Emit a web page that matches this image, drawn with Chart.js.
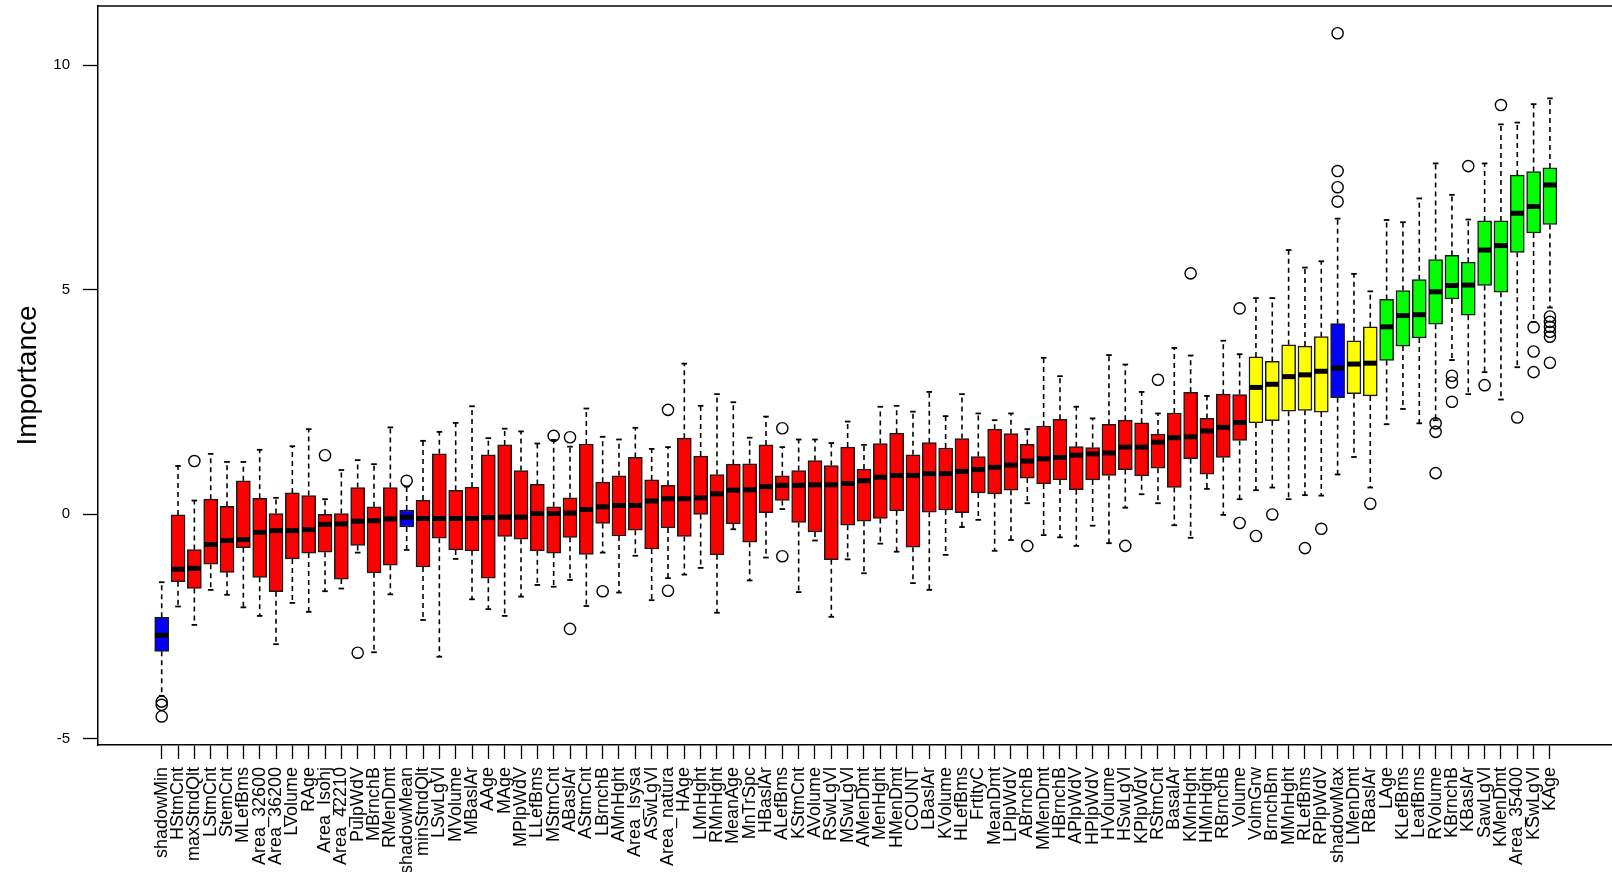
<!DOCTYPE html>
<html>
<head>
<meta charset="utf-8">
<script src="https://cdn.jsdelivr.net/npm/chart.js@4.4.1/dist/chart.umd.min.js"></script>
<style>
  html, body { margin: 0; background: #fff; overflow: hidden; }
  #wrap { width: 1612px; height: 872px; }
</style>
</head>
<body>
<div id="wrap"><canvas id="chart"></canvas></div>
<script>
// Boruta importance per variable, sorted by median
const variables = [
  'shadowMin', 'HStmCnt', 'maxStndQlt', 'LStmCnt', 'StemCnt', 'MLefBms', 'Area_32600', 'Area_36200', 'LVolume', 'RAge',
  'Area_Isohj', 'Area_42210', 'PulpWdV', 'MBrnchB', 'RMenDmt', 'shadowMean', 'minStndQlt', 'LSwLgVl', 'MVolume', 'MBaslAr',
  'AAge', 'MAge', 'MPlpWdV', 'LLefBms', 'MStmCnt', 'ABaslAr', 'AStmCnt', 'LBrnchB', 'AMnHght', 'Area_Isysa',
  'ASwLgVl', 'Area_natura', 'HAge', 'LMnHght', 'RMnHght', 'MeanAge', 'MnTrSpc', 'HBaslAr', 'ALefBms', 'KStmCnt',
  'AVolume', 'RSwLgVl', 'MSwLgVl', 'AMenDmt', 'MenHght', 'HMenDmt', 'COUNT', 'LBaslAr', 'KVolume', 'HLefBms',
  'FrtltyC', 'MeanDmt', 'LPlpWdV', 'ABrnchB', 'MMenDmt', 'HBrnchB', 'APlpWdV', 'HPlpWdV', 'HVolume', 'HSwLgVl',
  'KPlpWdV', 'RStmCnt', 'BasalAr', 'KMnHght', 'HMnHght', 'RBrnchB', 'Volume', 'VolmGrw', 'BrnchBm', 'MMnHght',
  'RLefBms', 'RPlpWdV', 'shadowMax', 'LMenDmt', 'RBaslAr', 'LAge', 'KLefBms', 'LeafBms', 'RVolume', 'KBrnchB',
  'KBaslAr', 'SawLgVl', 'KMenDmt', 'Area_35400', 'KSwLgVl', 'KAge'
];

// S = shadow, R = rejected, T = tentative, C = confirmed
const decision = [
  'S','R','R','R','R','R','R','R','R','R',
  'R','R','R','R','R','S','R','R','R','R',
  'R','R','R','R','R','R','R','R','R','R',
  'R','R','R','R','R','R','R','R','R','R',
  'R','R','R','R','R','R','R','R','R','R',
  'R','R','R','R','R','R','R','R','R','R',
  'R','R','R','R','R','R','R','T','T','T',
  'T','T','S','T','T','C','C','C','C','C',
  'C','C','C','C','C','C'
];

const whiskerLow = [
  -4.05, -2.06, -2.47, -1.69, -1.80, -2.08, -2.27, -2.90, -1.98, -2.18,
  -1.72, -1.66, -0.86, -3.08, -1.79, -0.80, -2.36, -3.18, -1.00, -1.90,
  -2.12, -2.27, -1.84, -1.58, -1.62, -1.47, -2.05, -0.86, -1.75, -0.93,
  -1.92, -1.43, -1.35, -1.20, -2.20, -0.34, -1.48, -0.97, 0.11, -1.74,
  -0.59, -2.29, -1.01, -1.32, -0.66, -0.84, -1.54, -1.69, -0.91, -0.29,
  -0.13, -0.82, -0.58, 0.24, -0.47, -0.52, -0.71, -0.26, -0.65, 0.14,
  0.44, 0.24, -0.25, -0.53, 0.56, -0.02, 0.33, 0.53, 0.59, 0.33,
  0.42, 0.41, 0.88, 1.27, 0.59, 2.00, 2.34, 2.02, 2.09, 3.43,
  2.67, 3.16, 2.55, 3.27, 4.28, 4.60
];
const q1 = [
  -3.06, -1.51, -1.66, -1.12, -1.30, -0.75, -1.41, -1.73, -1.00, -0.87,
  -0.85, -1.45, -0.70, -1.31, -1.14, -0.29, -1.18, -0.54, -0.80, -0.82,
  -1.43, -0.50, -0.56, -0.82, -0.87, -0.52, -0.90, -0.21, -0.49, -0.36,
  -0.78, -0.31, -0.50, -0.01, -0.91, -0.22, -0.63, 0.03, 0.30, -0.19,
  -0.40, -1.02, -0.25, -0.16, -0.10, 0.07, -0.74, 0.04, 0.09, 0.03,
  0.47, 0.45, 0.53, 0.80, 0.67, 0.76, 0.54, 0.76, 0.86, 0.99,
  0.85, 1.02, 0.59, 1.23, 0.89, 1.26, 1.64, 2.03, 2.08, 2.29,
  2.31, 2.27, 2.59, 2.68, 2.63, 3.42, 3.74, 3.92, 4.23, 4.79,
  4.43, 5.09, 4.94, 5.83, 6.26, 6.45
];
const median = [
  -2.70, -1.23, -1.21, -0.68, -0.59, -0.57, -0.41, -0.37, -0.37, -0.35,
  -0.23, -0.22, -0.16, -0.15, -0.11, -0.07, -0.10, -0.10, -0.10, -0.10,
  -0.08, -0.07, -0.07, 0.01, 0.01, 0.02, 0.10, 0.16, 0.19, 0.19,
  0.29, 0.34, 0.34, 0.36, 0.45, 0.53, 0.54, 0.61, 0.64, 0.64,
  0.65, 0.65, 0.68, 0.74, 0.82, 0.86, 0.86, 0.90, 0.90, 0.95,
  0.99, 1.04, 1.09, 1.18, 1.23, 1.26, 1.31, 1.34, 1.36, 1.49,
  1.49, 1.60, 1.70, 1.72, 1.85, 1.93, 2.04, 2.82, 2.89, 3.06,
  3.10, 3.18, 3.25, 3.34, 3.36, 4.17, 4.42, 4.44, 4.95, 5.09,
  5.10, 5.88, 5.98, 6.70, 6.85, 7.33
];
const q3 = [
  -2.30, -0.02, -0.79, 0.33, 0.17, 0.74, 0.35, 0.01, 0.47, 0.41,
  -0.01, 0.01, 0.59, 0.16, 0.59, 0.09, 0.31, 1.34, 0.53, 0.60,
  1.32, 1.54, 0.97, 0.66, 0.16, 0.36, 1.56, 0.71, 0.85, 1.26,
  0.76, 0.64, 1.69, 1.29, 0.88, 1.11, 1.12, 1.54, 0.85, 0.97,
  1.19, 1.08, 1.49, 1.00, 1.57, 1.80, 1.32, 1.59, 1.47, 1.68,
  1.28, 1.89, 1.79, 1.55, 1.96, 2.11, 1.50, 1.48, 2.00, 2.09,
  2.03, 1.78, 2.25, 2.71, 2.13, 2.67, 2.66, 3.50, 3.40, 3.77,
  3.74, 3.95, 4.24, 3.86, 4.17, 4.78, 4.98, 5.22, 5.67, 5.76,
  5.61, 6.53, 6.53, 7.55, 7.63, 7.71
];
const whiskerHigh = [
  -1.52, 1.07, 0.30, 1.34, 1.16, 1.16, 1.43, 0.36, 1.51, 1.89,
  0.33, 0.98, 1.20, 1.11, 1.93, 0.61, 1.63, 1.83, 2.03, 2.40,
  1.69, 1.90, 1.84, 1.57, 1.65, 1.50, 2.35, 1.72, 1.66, 1.92,
  1.45, 1.49, 3.35, 2.41, 2.67, 2.49, 1.70, 2.17, 1.49, 1.66,
  1.66, 1.58, 2.06, 1.54, 2.39, 2.41, 2.28, 2.72, 2.18, 2.67,
  2.24, 2.09, 2.24, 1.89, 3.48, 3.07, 2.39, 2.13, 3.54, 3.33,
  2.72, 2.24, 3.70, 3.53, 2.63, 3.86, 3.56, 4.81, 4.81, 5.88,
  5.49, 5.63, 6.58, 5.35, 4.96, 6.55, 6.50, 7.03, 7.81, 7.11,
  6.56, 7.81, 8.68, 8.72, 9.13, 9.26
];

// outliers: position (1-based) and value
const outlierAt = [
  1, 1, 1, 3, 11, 13, 16, 25, 26, 26,
  28, 32, 32, 39, 39, 54, 60, 62, 64, 67,
  67, 68, 69, 71, 72, 73, 73, 73, 73, 75,
  79, 79, 79, 80, 80, 80, 81, 82, 83, 84,
  85, 85, 85, 86, 86, 86, 86, 86, 86
];
const outlierValue = [
  -4.18, -4.25, -4.51, 1.18, 1.31, -3.09, 0.74, 1.74, 1.71, -2.56,
  -1.72, 2.32, -1.71, 1.91, -0.94, -0.71, -0.71, 2.99, 5.36, 4.58,
  -0.20, -0.49, -0.01, -0.76, -0.33, 6.96, 7.28, 7.64, 10.71, 0.23,
  2.02, 1.83, 0.91, 3.08, 2.93, 2.50, 7.75, 2.87, 9.11, 2.15,
  4.16, 3.62, 3.16, 4.40, 4.28, 4.17, 4.06, 3.95, 3.37
];

const yTicks = [-5, 0, 5, 10];

const decisionColors = { S: '#0000ff', R: '#ff0000', T: '#ffff00', C: '#00ff00' };
const FONT = "'Liberation Sans', Arial, Helvetica, sans-serif";

const pos = variables.map((_, i) => i + 1);

const boxData = pos.map((x, i) => ({ x, y: [q1[i], q3[i]] }));
const medianData = pos.map((x, i) => ({ x, y: median[i] }));
const whiskerData = [];
pos.forEach((x, i) => {
  whiskerData.push(
    { x, y: q3[i] }, { x, y: whiskerHigh[i] }, { x, y: null },
    { x, y: q1[i] }, { x, y: whiskerLow[i] }, { x, y: null }
  );
});
const capData = pos.flatMap((x, i) => [{ x, y: whiskerLow[i] }, { x, y: whiskerHigh[i] }]);
const outlierData = outlierAt.map((x, k) => ({ x, y: outlierValue[k] }));

// top line of the plot frame
const framePlugin = {
  id: 'frame',
  afterDraw(chart) {
    const { ctx, chartArea } = chart;
    ctx.save();
    ctx.strokeStyle = '#000';
    ctx.lineWidth = 1.5;
    ctx.beginPath();
    ctx.moveTo(chartArea.left, chartArea.top);
    ctx.lineTo(chartArea.right + 2, chartArea.top);
    ctx.stroke();
    ctx.restore();
  }
};

const noPadding = s => {
  s.paddingLeft = 0;
  s.paddingRight = 0;
  s.paddingTop = 0;
  s.paddingBottom = 0;
};

new Chart(document.getElementById('chart'), {
  type: 'bar',
  data: {
    datasets: [
      {
        type: 'line',
        data: whiskerData,
        borderColor: '#000',
        borderWidth: 1.6,
        borderDash: [5, 4],
        pointRadius: 0,
        spanGaps: false,
        order: 4,
      },
      {
        type: 'bar',
        data: boxData,
        backgroundColor: decision.map(d => decisionColors[d]),
        borderColor: '#1a1a1a',
        borderWidth: 1.5,
        borderSkipped: false,
        barThickness: 14,
        order: 3,
      },
      {
        type: 'scatter',
        data: medianData,
        pointStyle: 'line',
        pointRadius: 6.5,
        borderColor: '#000',
        borderWidth: 5,
        order: 2,
      },
      {
        type: 'scatter',
        data: capData,
        pointStyle: 'line',
        pointRadius: 2.8,
        borderColor: '#000',
        borderWidth: 1.8,
        order: 2,
      },
      {
        type: 'scatter',
        data: outlierData,
        pointStyle: 'circle',
        pointRadius: 5.6,
        backgroundColor: 'rgba(0,0,0,0)',
        borderColor: '#000',
        borderWidth: 1.4,
        order: 1,
      },
    ],
  },
  options: {
    responsive: true,
    maintainAspectRatio: false,
    animation: false,
    layout: { autoPadding: false, padding: { top: 6, left: 0, right: 0, bottom: 0 } },
    plugins: {
      legend: { display: false },
      tooltip: { enabled: false },
    },
    scales: {
      x: {
        type: 'linear',
        min: -2.90,
        max: 89.80,
        offset: false,
        afterBuildTicks: s => { s.ticks = pos.map(v => ({ value: v })); },
        afterFit: s => { s.height = 127; noPadding(s); },
        grid: {
          display: true,
          offset: false,
          drawOnChartArea: false,
          drawTicks: true,
          tickLength: 14,
          tickColor: '#000',
          tickWidth: 1.3,
        },
        border: { display: true, color: '#000', width: 1.5 },
        ticks: {
          autoSkip: false,
          maxRotation: 90,
          minRotation: 90,
          padding: 8,
          color: '#000',
          font: { family: FONT, size: 18 },
          callback: v => variables[v - 1] ?? '',
        },
      },
      y: {
        type: 'linear',
        min: -5.146,
        max: 11.317,
        afterBuildTicks: s => { s.ticks = yTicks.map(v => ({ value: v })); },
        afterFit: s => { s.width = 98; noPadding(s); },
        grid: {
          display: true,
          drawOnChartArea: false,
          drawTicks: true,
          tickLength: 15,
          tickColor: '#000',
          tickWidth: 1.3,
        },
        border: { display: true, color: '#000', width: 1.5 },
        ticks: {
          color: '#000',
          padding: 13,
          font: { family: FONT, size: 15 },
        },
        title: {
          display: true,
          text: 'Importance',
          color: '#000',
          font: { family: FONT, size: 28 },
          padding: { top: 11, bottom: 0 },
        },
      },
    },
  },
  plugins: [framePlugin],
});
</script>
</body>
</html>
